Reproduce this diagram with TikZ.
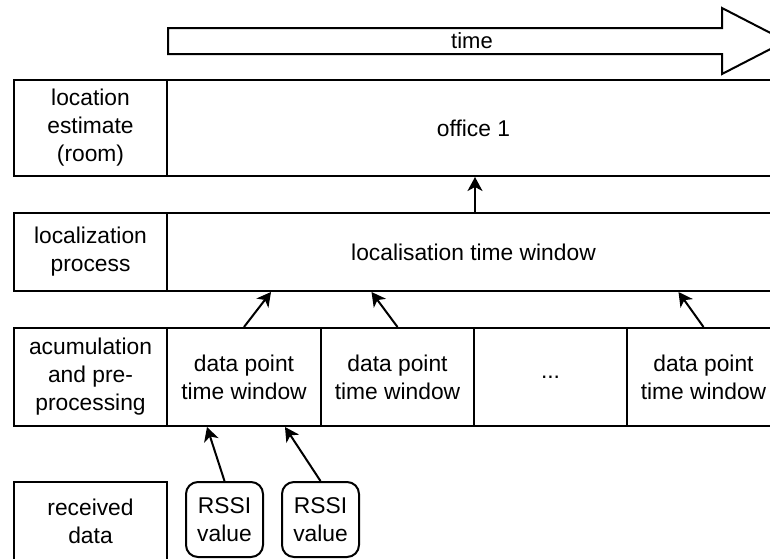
\documentclass[tikz,border=0pt]{standalone}
\usepackage{fontspec}
\setmainfont{Liberation Sans}
\usetikzlibrary{arrows.meta}

\begin{document}
\begin{tikzpicture}[x=.5pt,y=-.5pt,font=\fontsize{11.4}{14}\selectfont,text=black,
  flow/.style={-{Stealth[length=7pt,width=7.5pt,inset=2pt]},line width=1pt},
  cell/.style={draw=black,line width=1pt,inner sep=0pt,align=center},
  label/.style={cell,minimum width=76.5pt},
  wide/.style={cell,minimum width=306.5pt},
  slot/.style={cell,minimum width=76.5pt,minimum height=49pt},
  rssi/.style={cell,rounded corners=6pt,minimum width=38.5pt,minimum height=37.5pt}]
\useasboundingbox (0,0) rectangle (770,558);
\clip (0,0) rectangle (770,558);

% TIME AXIS
\draw[line width=1pt] (168,28)--(722,28)--(722,8)--(786,41)--(722,74)--(722,54)--(168,54)--cycle;
\node[font=\fontsize{11}{13}\selectfont] (time) at (472,41) {time};

% ROW LABELS
\node[label,minimum height=48pt] (lblEst) at (90.5,128) {location\\estimate\\(room)};
\node[label,minimum height=39pt] (lblProc) at (90.5,252) {localization\\process};
\node[label,minimum height=49pt] (lblAcc) at (90.5,377) {acumulation\\and pre-\\processing};
\node[label,minimum height=39.5pt] (lblRecv) at (90.5,521.5) {received\\data};

% RESULT AND LOCALISATION WINDOW
\node[wide,minimum height=48pt] (est) at (473.5,128) {office 1};
\node[wide,minimum height=39pt] (proc) at (473.5,252) {localisation time window};

% DATA POINT WINDOWS
\node[slot,minimum width=77pt] (dp1) at (244,377) {data point\\time window};
\node[slot] (dp2) at (397.5,377) {data point\\time window};
\node[slot] (dots) at (550.5,377) {...};
\node[slot] (dp4) at (703.5,377) {data point\\time window};

% RECEIVED VALUES
\node[rssi] (rssi1) at (224.5,519.5) {RSSI\\value};
\node[rssi] (rssi2) at (320.5,519.5) {RSSI\\value};

% CONNECTORS
\draw[flow] (dp2.north east |- proc.north)--(dp2.north east |- est.south);
\draw[flow] (dp1.north)--([xshift=13.5pt]dp1.north |- proc.south);
\draw[flow] (dp2.north)--([xshift=-13pt]dp2.north |- proc.south);
\draw[flow] (dp4.north)--([xshift=-12.5pt]dp4.north |- proc.south);
\draw[flow] (rssi1.north)--([xshift=-18.5pt]dp1.south);
\draw[flow] (rssi2.north)--([xshift=20.5pt]dp1.south);
\end{tikzpicture}
\end{document}
